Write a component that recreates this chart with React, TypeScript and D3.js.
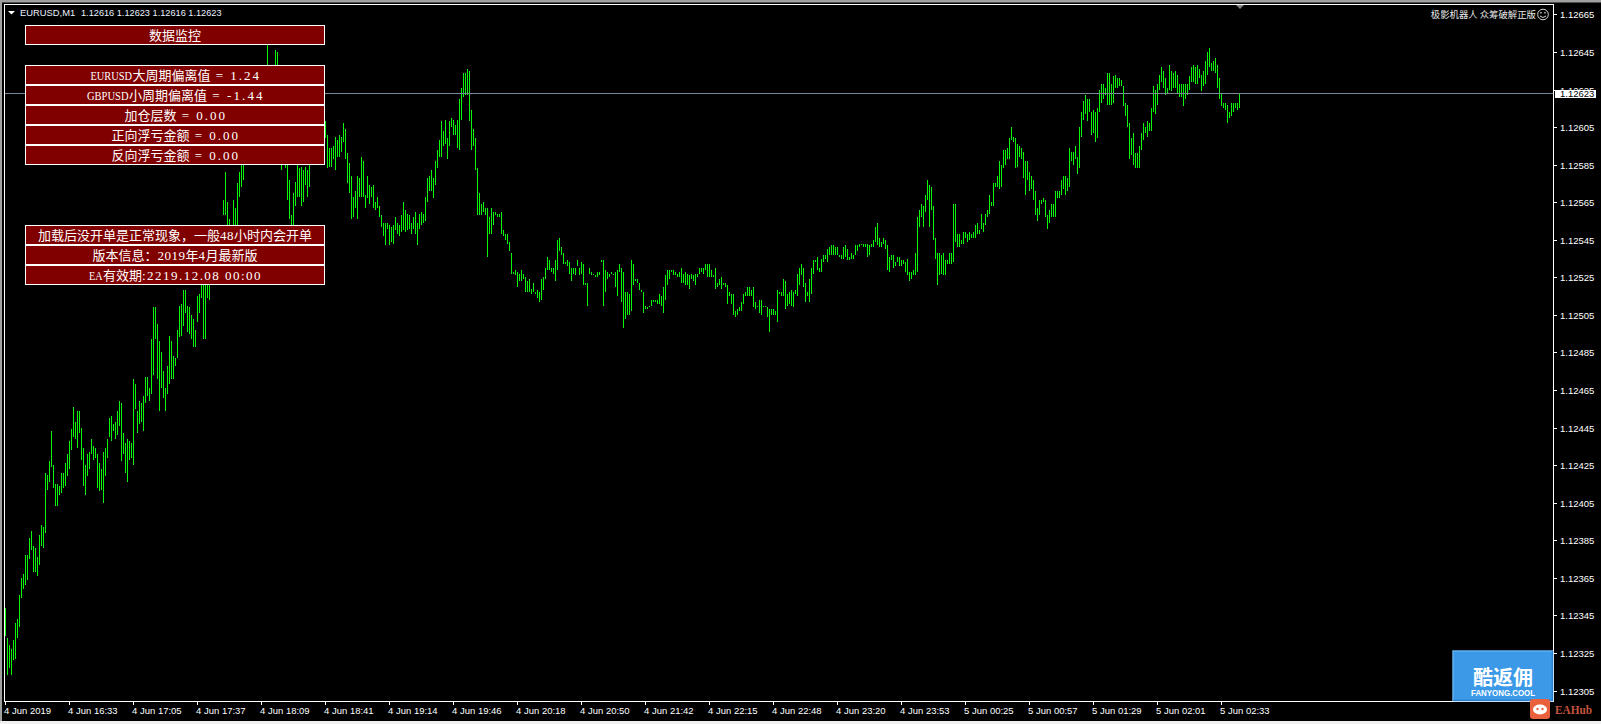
import React from "react";
import * as d3 from "d3";

// Prices are expressed as points above 1.12000
const basePrice = 1.12;
const highs = [
349,333,329,327,332,341,343,356,365,367,
377,377,386,390,382,381,376,388,393,392,
421,420,427,443,425,415,415,414,421,421,
426,431,438,444,456,448,454,454,445,434,
425,431,432,439,435,434,431,426,423,432,
434,439,450,451,447,448,454,459,458,442,
437,439,438,437,471,468,454,459,458,462,
472,472,466,492,509,509,500,491,485,475,
466,478,494,491,483,482,497,510,511,518,
518,510,509,505,503,497,515,516,521,529,
526,532,533,547,545,549,547,550,550,566,
581,565,556,553,566,562,575,581,589,593,
603,609,611,619,617,625,630,635,633,635,
637,649,636,635,636,646,645,630,614,598,
603,593,577,558,570,576,587,583,584,582,
584,582,587,603,606,609,614,608,606,609,
608,601,594,594,595,600,598,601,600,607,
604,591,586,579,568,571,579,578,589,587,
569,579,574,573,574,565,568,563,558,554,
554,554,553,552,553,557,554,553,558,565,
561,559,558,554,557,560,554,559,560,559,
568,578,579,582,578,587,593,598,608,603,
609,599,608,610,609,606,609,620,626,634,
634,636,635,614,604,599,583,570,564,565,
562,562,557,562,560,560,559,559,560,550,
548,548,544,538,528,529,528,527,529,527,
525,523,524,519,522,517,518,517,524,525,
530,536,534,530,530,534,545,546,541,538,
533,534,533,530,530,530,534,530,533,532,
522,522,530,528,527,526,528,528,534,534,
529,528,527,528,527,528,529,532,530,528,
517,517,516,534,532,524,524,522,518,517,
510,509,510,513,513,513,513,516,515,520,
526,529,529,529,529,528,527,528,530,527,
528,527,526,527,526,527,527,530,530,530,
532,532,532,529,526,530,522,524,525,522,
522,521,517,516,516,507,508,509,512,516,
517,520,520,518,520,512,510,513,513,510,
510,509,508,508,508,507,518,517,517,524,
523,516,517,518,517,518,527,530,532,530,
522,517,524,530,534,534,536,530,535,537,
537,540,541,542,542,541,541,537,537,541,
542,540,536,538,537,542,542,543,543,543,
543,543,542,543,545,552,554,546,544,546,
545,542,536,537,537,533,536,536,534,534,
533,535,528,528,529,538,557,561,564,563,
569,577,574,573,563,546,538,538,537,538,
534,534,538,538,564,564,548,548,545,549,
549,548,549,548,549,553,554,550,559,554,
559,561,569,565,575,575,579,587,585,593,
593,594,599,605,600,599,596,595,594,592,
587,587,581,579,577,571,562,566,566,567,
566,558,561,564,564,571,571,571,577,579,
579,578,594,592,592,595,589,605,613,619,
622,620,620,613,614,613,615,625,628,628,
626,634,634,628,632,633,631,631,630,627,
618,617,607,599,602,591,591,595,602,607,
605,608,607,615,627,625,628,633,637,635,
631,626,638,635,634,635,633,628,628,628,
628,628,632,637,638,637,638,636,633,635,
640,645,647,639,640,642,638,631,623,618,
618,617,613,618,618,618,618,623];
const lows = [
334,313,317,313,321,322,333,339,354,359,
361,364,375,380,368,368,366,372,382,381,
389,412,416,424,413,403,403,409,410,413,
414,419,423,433,440,439,434,442,428,414,
409,419,423,431,428,429,413,411,412,405,
419,429,440,438,443,439,441,446,427,431,
421,416,428,429,425,455,442,447,448,443,
458,462,459,463,473,492,471,454,466,461,
454,463,468,471,471,478,482,493,494,499,
506,496,495,492,488,488,501,506,514,492,
492,514,513,524,526,532,529,533,534,558,
558,553,545,540,545,542,549,568,573,577,
587,593,598,603,606,609,614,619,622,625,
625,630,625,622,619,622,619,609,582,585,
583,566,556,545,547,563,568,568,563,565,
574,568,573,587,590,589,593,587,586,593,
599,583,584,584,588,582,589,589,592,597,
588,575,570,556,557,562,556,568,568,568,
562,567,564,568,562,561,562,557,552,547,
542,551,542,544,543,550,548,547,549,550,
549,550,551,548,551,548,542,551,553,554,
555,565,571,571,567,574,583,589,589,595,
596,588,595,605,601,601,594,593,609,621,
622,622,608,593,595,582,558,558,558,560,
558,536,548,548,553,558,557,557,548,547,
545,543,539,527,527,526,520,523,523,524,
517,517,517,516,517,516,514,512,513,518,
524,529,529,528,527,523,529,539,537,532,
532,531,527,523,527,526,531,526,527,521,
521,510,527,526,526,525,525,526,533,510,
517,524,525,527,526,520,515,528,512,498,
503,505,505,507,521,523,522,518,517,506,
508,508,509,510,512,512,511,511,510,506,
513,521,524,528,526,526,525,525,522,522,
521,521,519,524,523,521,525,527,528,527,
529,525,525,525,525,519,520,521,519,521,
520,511,515,511,505,504,505,507,507,511,
515,515,515,515,509,508,509,506,505,509,
509,504,496,505,505,505,501,516,515,515,
508,510,511,510,509,516,515,521,526,520,
512,515,512,516,527,533,529,528,528,533,
535,533,537,537,537,537,537,536,535,535,
536,534,534,535,535,537,539,541,542,541,
541,536,537,541,541,544,542,541,541,543,
540,529,528,534,530,531,533,531,531,532,
528,526,523,524,526,526,528,552,557,552,
560,566,552,561,545,535,521,526,527,526,
526,532,532,532,533,544,541,541,543,543,
546,544,545,546,546,546,548,548,551,549,
553,557,559,563,563,573,573,572,573,583,
585,588,588,598,597,583,584,589,588,578,
569,577,571,572,566,558,555,558,564,565,
557,551,554,557,557,557,567,567,569,572,
569,571,573,587,585,588,580,583,600,609,
612,608,613,601,602,597,599,613,618,620,
622,617,617,617,618,626,626,627,627,616,
611,605,588,590,585,583,583,583,593,598,
602,600,603,603,613,612,617,625,629,626,
622,623,625,624,626,626,623,621,621,616,
620,622,625,629,629,628,628,631,624,627,
628,633,637,635,635,634,626,620,616,615,
614,607,610,611,613,615,614,615];

const priceTicks = [1.12665,1.12645,1.12625,1.12605,1.12585,1.12565,1.12545,1.12525,1.12505,1.12485,1.12465,1.12445,1.12425,1.12405,1.12385,1.12365,1.12345,1.12325,1.12305];
const timeLabels = ["4 Jun 2019","4 Jun 16:33","4 Jun 17:05","4 Jun 17:37","4 Jun 18:09","4 Jun 18:41","4 Jun 19:14","4 Jun 19:46","4 Jun 20:18","4 Jun 20:50","4 Jun 21:42","4 Jun 22:15","4 Jun 22:48","4 Jun 23:20","4 Jun 23:53","5 Jun 00:25","5 Jun 00:57","5 Jun 01:29","5 Jun 02:01","5 Jun 02:33"];
const timeTickEvery = 32;
const lastPrice = 1.12623;
const headerSymbol = "EURUSD,M1";
const headerOhlc = "1.12616 1.12623 1.12616 1.12623";
const topPanel = ["数据监控"];
const middlePanels = ["EURUSD大周期偏离值 = 1.24","GBPUSD小周期偏离值 = -1.44","加仓层数 = 0.00","正向浮亏金额 = 0.00","反向浮亏金额 = 0.00"];
const bottomPanels = ["加载后没开单是正常现象，一般48小时内会开单","版本信息：2019年4月最新版","EA有效期:2219.12.08 00:00"];

const W = 1601, H = 724;
const AXIS_X = 1553, AXIS_Y = 701, LEFT = 4;
const UI = "'Liberation Sans', Arial, sans-serif";
const CJK = "'Noto Sans CJK SC', sans-serif";
const HALF = 7, FULL = 13;

const x = d3.scaleLinear().domain([0, 617]).range([5, 1239]);
const y = d3.scaleLinear().domain([1.12645, 1.12305]).range([52, 690.5]);
const py = (p: number) => Math.round(y(basePrice + p / 1e5));

function PanelRow({ label, top }: { label: string; top: number }) {
  const runs = label.match(/[\x20-\x7e]+|[^\x20-\x7e]+/g) || [];
  const isAscii = (r: string) => /^[\x20-\x7e]/.test(r);
  const width = (r: string) => r.length * (isAscii(r) ? HALF : FULL);
  const total = d3.sum(runs, width);
  let cursor = 175 - total / 2;
  return (
    <g>
      <rect x={25.5} y={top + 0.5} width={299} height={19} fill="#800000" stroke="#fff" strokeWidth={1} shapeRendering="crispEdges" />
      {runs.map((r, i) => {
        const start = cursor;
        cursor += width(r);
        const caps = /^[A-Z]+$/.test(r);
        return isAscii(r) ? (
          <text key={i} x={start} y={top + 14.5} fill="#fff" xmlSpace="preserve" fontFamily="'Liberation Serif', serif" fontSize={13} textLength={width(r) - 0.5} lengthAdjust={caps ? "spacingAndGlyphs" : "spacing"}>{r}</text>
        ) : (
          <text key={i} x={start} y={top + 14.5} fill="#fff" fontFamily={CJK} fontSize={FULL}>{r}</text>
        );
      })}
    </g>
  );
}

export default function App() {
  return (
    <svg width={W} height={H} viewBox={`0 0 ${W} ${H}`} style={{ position: "absolute", left: 0, top: 0, display: "block", background: "#000" }}>
      {/* window frame */}
      <rect x={0} y={0} width={W} height={2.5} fill="#a0a0a0" />
      <rect x={0} y={0} width={2} height={H} fill="#a0a0a0" />
      <rect x={0} y={721} width={W} height={3} fill="#f0f0f0" />

      {/* chart frame */}
      <g stroke="#fff" strokeWidth={1} shapeRendering="crispEdges">
        <line x1={LEFT + 0.5} x2={AXIS_X + 0.5} y1={4.5} y2={4.5} />
        <line x1={LEFT + 0.5} x2={LEFT + 0.5} y1={4} y2={AXIS_Y + 1} />
        <line x1={AXIS_X + 0.5} x2={AXIS_X + 0.5} y1={4} y2={AXIS_Y + 1} />
        <line x1={LEFT} x2={AXIS_X + 1} y1={AXIS_Y + 0.5} y2={AXIS_Y + 0.5} />
      </g>

      {/* bars */}
      <g fill="#0cf50c" shapeRendering="crispEdges">
        {highs.map((h, i) => (
          <rect key={i} x={x(i)} y={py(h)} width={1} height={Math.max(1, py(lows[i]) - py(h))} />
        ))}
      </g>

      {/* current price line */}
      <line x1={LEFT + 1} x2={AXIS_X} y1={Math.round(y(lastPrice)) + 0.5} y2={Math.round(y(lastPrice)) + 0.5} stroke="#778899" strokeWidth={1} shapeRendering="crispEdges" />

      {/* shift marker */}
      <path d="M1236 5 L1244 5 L1240 9 Z" fill="#808080" />

      {/* header */}
      <path d="M8 11 L15 11 L11.5 14.5 Z" fill="#fff" />
      <text x={20} y={16} fontFamily={UI} fontSize={9.4} fill="#eaf2ff" xmlSpace="preserve">{headerSymbol}</text>
      <text x={81} y={16} fontFamily={UI} fontSize={9.2} fill="#eaf2ff" xmlSpace="preserve">{headerOhlc}</text>

      {/* panels */}
      {topPanel.map((t, i) => <PanelRow key={t} label={t} top={25 + i * 20} />)}
      {middlePanels.map((t, i) => <PanelRow key={t} label={t} top={65 + i * 20} />)}
      {bottomPanels.map((t, i) => <PanelRow key={t} label={t} top={225 + i * 20} />)}

      {/* top-right note */}
      <text x={1536} y={18} textAnchor="end" fontFamily={CJK} fontSize={9.4} fill="#e8e8e8" xmlSpace="preserve">极影机器人 众筹破解正版</text>
      <g fill="none" stroke="#e8e8e8" strokeWidth={0.9}>
        <circle cx={1543} cy={14.5} r={5.3} />
        <path d="M1540 16 Q1543 19 1546 16" />
      </g>
      <circle cx={1541} cy={12.8} r={0.8} fill="#e8e8e8" />
      <circle cx={1545} cy={12.8} r={0.8} fill="#e8e8e8" />

      {/* price axis */}
      {priceTicks.map((p) => {
        const yy = Math.round(y(p));
        return (
          <g key={p}>
            <line x1={AXIS_X + 1} x2={AXIS_X + 4} y1={yy + 0.5} y2={yy + 0.5} stroke="#fff" shapeRendering="crispEdges" />
            <text x={1560} y={yy + 3.5} fontFamily={UI} fontSize={9.5} fill="#fff">{p.toFixed(5)}</text>
          </g>
        );
      })}
      <rect x={1555} y={Math.round(y(lastPrice)) - 3} width={41} height={8} fill="#fff" />
      <text x={1560} y={Math.round(y(lastPrice)) + 4} fontFamily={UI} fontSize={9.5} fill="#000">{lastPrice.toFixed(5)}</text>

      {/* time axis */}
      {timeLabels.map((t, i) => {
        const xx = Math.round(x(i * timeTickEvery));
        return (
          <g key={t}>
            <line x1={xx + 0.5} x2={xx + 0.5} y1={AXIS_Y + 1} y2={AXIS_Y + 4} stroke="#fff" shapeRendering="crispEdges" />
            <text x={xx - 1} y={714} fontFamily={UI} fontSize={9.5} fill="#fff">{t}</text>
          </g>
        );
      })}

      {/* watermark */}
      <rect x={1453} y={651} width={100} height={50} fill="#3b99e8" />
      <path d="M1453 701 L1453 651 L1553 651" fill="none" stroke="#62b2f2" strokeWidth={1.5} />
      <path d="M1453 700.5 L1552.5 700.5 L1552.5 651" fill="none" stroke="#2a7fcb" strokeWidth={1.5} />
      <text x={1503} y={685} textAnchor="middle" fontFamily={CJK} fontWeight={700} fontSize={20} fill="#fff">酷返佣</text>
      <text x={1471} y={695.5} fontFamily={UI} fontWeight={700} fontSize={8.4} fill="#fff" textLength={64} lengthAdjust="spacingAndGlyphs">FANYONG.COOL</text>

      {/* EAHub */}
      <rect x={1530} y={699} width={20} height={20} rx={3} fill="#e8603c" />
      <ellipse cx={1540} cy={709.5} rx={7} ry={5} fill="#fff" />
      <circle cx={1537.5} cy={709} r={1.2} fill="#e8603c" />
      <circle cx={1542.5} cy={709} r={1.2} fill="#e8603c" />
      <text x={1555} y={714} fontFamily="'Liberation Serif', serif" fontWeight={700} fontSize={13} fill="#c4553c" textLength={37} lengthAdjust="spacingAndGlyphs">EAHub</text>
    </svg>
  );
}
